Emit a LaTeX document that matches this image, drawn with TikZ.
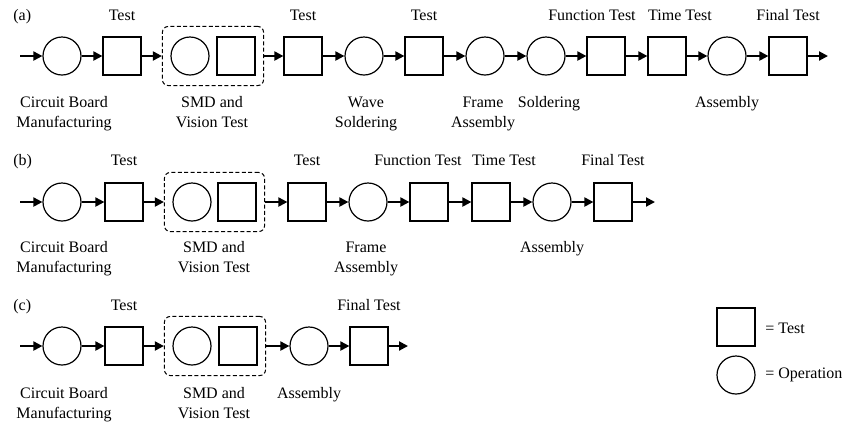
\documentclass[tikz,border=0pt]{standalone}
\usepackage{fontspec}
\setmainfont{Liberation Serif}
\usepackage{tikz}
\usetikzlibrary{arrows.meta}
\usetikzlibrary{fit}

\tikzset{
  op/.style={circle, draw, line width=0.6pt, minimum size=19pt, inner sep=0pt},
  tst/.style={rectangle, draw, line width=0.6pt, minimum size=19pt, inner sep=0pt},
  grp/.style={draw, dashed, dash pattern=on 2pt off 1.2pt, line width=0.5pt, rounded corners=3pt, inner xsep=4pt, inner ysep=5pt},
  flow/.style={line width=1pt, -{Triangle[length=4.5pt, width=4.5pt]}},
  txt/.style={anchor=base, inner sep=0pt, align=center, font=\fontsize{8}{10}\selectfont},
  lbl/.style={txt, anchor=base west}
}

\begin{document}
\begin{tikzpicture}[x=0.5pt, y=-0.5pt]
    \useasboundingbox (0,0) rectangle (849,425);

    % Ligne (a)
    \coordinate (a0) at (20,56);
    \node[op]  (a1) at (62,56) {};
    \node[tst] (a2) at (122,56) {};
    \node[op]  (a3) at (190,56) {};
    \node[tst] (a4) at (236,56) {};
    \node[grp, fit=(a3) (a4)] (ag) {};
    \node[tst] (a5) at (303,56) {};
    \node[op]  (a6) at (364,56) {};
    \node[tst] (a7) at (424,56) {};
    \node[op]  (a8) at (485,56) {};
    \node[op]  (a9) at (546,56) {};
    \node[tst] (a10) at (606,56) {};
    \node[tst] (a11) at (667,56) {};
    \node[op]  (a12) at (727,56) {};
    \node[tst] (a13) at (788,56) {};
    \coordinate (a14) at (828,56);

    \draw[flow] (a0) -- (a1);
    \draw[flow] (a1) -- (a2);
    \draw[flow] (a2) -- (ag);
    \draw[flow] (ag) -- (a5);
    \draw[flow] (a5) -- (a6);
    \draw[flow] (a6) -- (a7);
    \draw[flow] (a7) -- (a8);
    \draw[flow] (a8) -- (a9);
    \draw[flow] (a9) -- (a10);
    \draw[flow] (a10) -- (a11);
    \draw[flow] (a11) -- (a12);
    \draw[flow] (a12) -- (a13);
    \draw[flow] (a13) -- (a14);

    \node[lbl] (ta) at (13,20) {(a)};
    \node[txt] (ta2) at (122,20) {Test};
    \node[txt] (ta5) at (303,20) {Test};
    \node[txt] (ta7) at (424,20) {Test};
    \node[txt] (ta10) at (592,20) {Function Test};
    \node[txt] (ta11) at (680,20) {Time Test};
    \node[txt] (ta13) at (788,20) {Final Test};

    % deux lignes : base = derniere ligne
    \node[txt] (ba1) at (64,127) {Circuit Board\\Manufacturing};
    \node[txt] (bag) at (212,127) {SMD and\\Vision Test};
    \node[txt] (ba6) at (366,127) {Wave\\Soldering};
    \node[txt] (ba8) at (483,127) {Frame\\Assembly};
    \node[txt] (ba9) at (549,107) {Soldering};
    \node[txt] (ba12) at (727,107) {Assembly};

    % Ligne (b)
    \coordinate (b0) at (20,202);
    \node[op]  (b1) at (62,202) {};
    \node[tst] (b2) at (124,202) {};
    \node[op]  (b3) at (192,202) {};
    \node[tst] (b4) at (237,202) {};
    \node[grp, fit=(b3) (b4)] (bg) {};
    \node[tst] (b5) at (307,202) {};
    \node[op]  (b6) at (368,202) {};
    \node[tst] (b7) at (429,202) {};
    \node[tst] (b8) at (491,202) {};
    \node[op]  (b9) at (552,202) {};
    \node[tst] (b10) at (613,202) {};
    \coordinate (b11) at (655,202);

    \draw[flow] (b0) -- (b1);
    \draw[flow] (b1) -- (b2);
    \draw[flow] (b2) -- (bg);
    \draw[flow] (bg) -- (b5);
    \draw[flow] (b5) -- (b6);
    \draw[flow] (b6) -- (b7);
    \draw[flow] (b7) -- (b8);
    \draw[flow] (b8) -- (b9);
    \draw[flow] (b9) -- (b10);
    \draw[flow] (b10) -- (b11);

    \node[lbl] (tb) at (13,165) {(b)};
    \node[txt] (tb2) at (124,165) {Test};
    \node[txt] (tb5) at (307,165) {Test};
    \node[txt] (tb7) at (418,165) {Function Test};
    \node[txt] (tb8) at (504,165) {Time Test};
    \node[txt] (tb10) at (613,165) {Final Test};

    \node[txt] (bb1) at (64,272) {Circuit Board\\Manufacturing};
    \node[txt] (bbg) at (214,272) {SMD and\\Vision Test};
    \node[txt] (bb6) at (366,272) {Frame\\Assembly};
    \node[txt] (bb9) at (552,252) {Assembly};

    % Ligne (c)
    \coordinate (c0) at (20,346);
    \node[op]  (c1) at (62,346) {};
    \node[tst] (c2) at (124,346) {};
    \node[op]  (c3) at (192,346) {};
    \node[tst] (c4) at (238,346) {};
    \node[grp, fit=(c3) (c4)] (cg) {};
    \node[op]  (c5) at (309,346) {};
    \node[tst] (c6) at (369,346) {};
    \coordinate (c7) at (408,346);

    \draw[flow] (c0) -- (c1);
    \draw[flow] (c1) -- (c2);
    \draw[flow] (c2) -- (cg);
    \draw[flow] (cg) -- (c5);
    \draw[flow] (c5) -- (c6);
    \draw[flow] (c6) -- (c7);

    \node[lbl] (tc) at (13,310) {(c)};
    \node[txt] (tc2) at (124,310) {Test};
    \node[txt] (tc6) at (369,310) {Final Test};

    \node[txt] (bc1) at (64,418) {Circuit Board\\Manufacturing};
    \node[txt] (bcg) at (214,418) {SMD and\\Vision Test};
    \node[txt] (bc5) at (309,398) {Assembly};

    % Legende
    \node[tst] (ltst) at (736,327) {};
    \node[op]  (lop) at (736,375) {};
    \node[lbl] (ltxt1) at (765,333) {= Test};
    \node[lbl] (ltxt2) at (765,378) {= Operation};
\end{tikzpicture}
\end{document}
